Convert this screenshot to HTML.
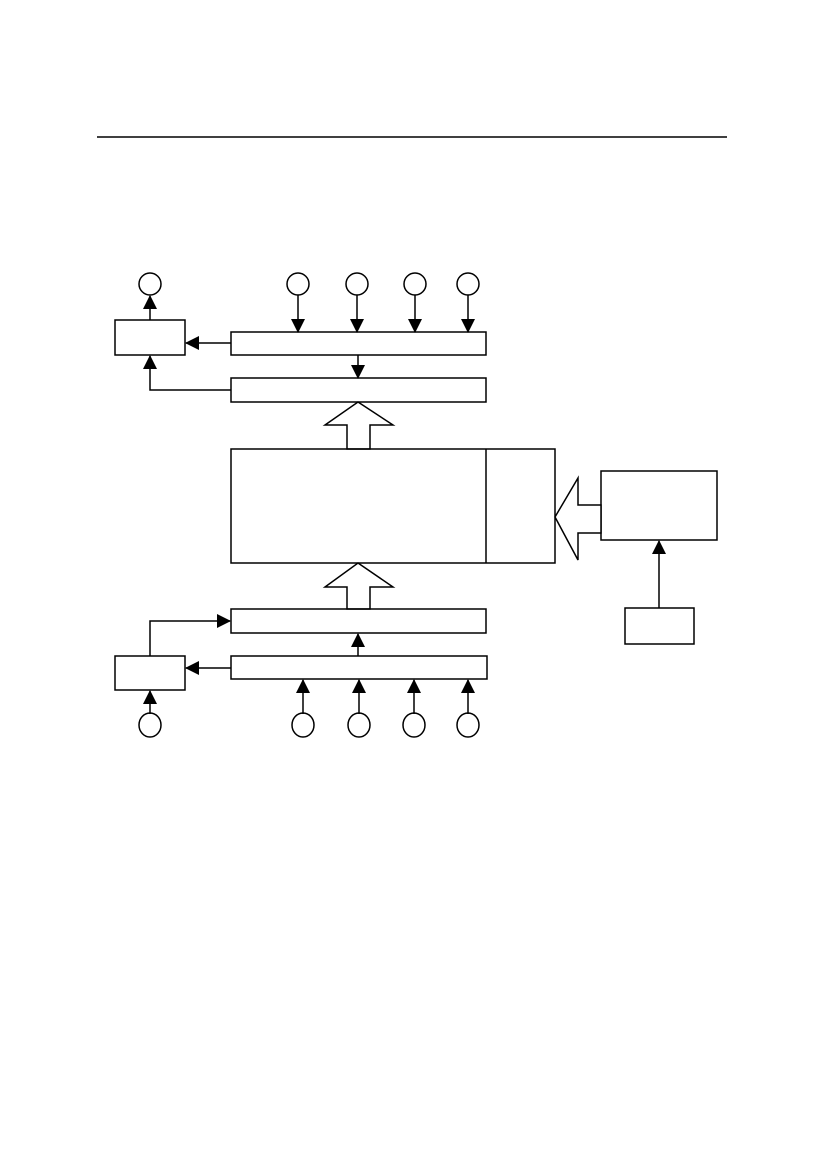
<!DOCTYPE html><html><head><style>body{margin:0;background:#fff}</style></head><body>
<svg width="826" height="1169" xmlns="http://www.w3.org/2000/svg" style="display:block">
<defs><marker id="a" markerWidth="10" markerHeight="10" refX="9" refY="5" orient="auto" markerUnits="userSpaceOnUse"><path d="M0,0 L10,5 L0,10 Z" fill="#000"/></marker>
<marker id="b" markerWidth="14" markerHeight="14" refX="13" refY="7" orient="auto" markerUnits="userSpaceOnUse"><path d="M0,0 L14,7 L0,14 Z" fill="#000"/></marker></defs>
<g stroke="#000" stroke-width="1.5" fill="none">
<line x1="97" y1="137" x2="727" y2="137"/>
<circle cx="150" cy="284" r="11"/><circle cx="298" cy="284" r="11"/><circle cx="357" cy="284" r="11"/><circle cx="415" cy="284" r="11"/><circle cx="468" cy="284" r="11"/>
<rect x="115" y="320" width="70" height="35"/>
<rect x="231" y="332" width="255" height="23"/>
<rect x="231" y="378" width="255" height="24"/>
<line x1="150" y1="320" x2="150" y2="296" marker-end="url(#b)"/>
<line x1="298" y1="295" x2="298" y2="332" marker-end="url(#b)"/>
<line x1="357" y1="295" x2="357" y2="332" marker-end="url(#b)"/>
<line x1="415" y1="295" x2="415" y2="332" marker-end="url(#b)"/>
<line x1="468" y1="295" x2="468" y2="332" marker-end="url(#b)"/>
<line x1="231" y1="343" x2="186" y2="343" marker-end="url(#b)"/>
<line x1="358" y1="355" x2="358" y2="378" marker-end="url(#b)"/>
<polyline points="231,390 150,390 150,356" marker-end="url(#b)"/>
<polygon points="358,402 393,425 370,425 370,449 347,449 347,425 325,425" fill="#fff"/>
<rect x="231" y="449" width="324" height="114"/>
<line x1="486" y1="449" x2="486" y2="563"/>
<rect x="601" y="471" width="116" height="69"/>
<polygon points="555,517 578,478 578,505 601,505 601,533 578,533 578,560" fill="#fff"/>
<rect x="625" y="608" width="69" height="36"/>
<line x1="659" y1="608" x2="659" y2="541" marker-end="url(#b)"/>
<polygon points="358,563 393,587 370,587 370,609 347,609 347,587 325,587" fill="#fff"/>
<rect x="231" y="609" width="255" height="24"/>
<rect x="231" y="656" width="256" height="23"/>
<rect x="115" y="656" width="70" height="34"/>
<polyline points="150,656 150,621 230,621" marker-end="url(#b)"/>
<line x1="358" y1="656" x2="358" y2="634" marker-end="url(#b)"/>
<line x1="231" y1="668" x2="186" y2="668" marker-end="url(#b)"/>
<line x1="150" y1="714" x2="150" y2="691" marker-end="url(#b)"/>
<line x1="303" y1="714" x2="303" y2="680" marker-end="url(#b)"/>
<line x1="359" y1="714" x2="359" y2="680" marker-end="url(#b)"/>
<line x1="414" y1="714" x2="414" y2="680" marker-end="url(#b)"/>
<line x1="468" y1="714" x2="468" y2="680" marker-end="url(#b)"/>
<ellipse cx="150" cy="725" rx="11" ry="12"/><ellipse cx="303" cy="725" rx="11" ry="12"/><ellipse cx="359" cy="725" rx="11" ry="12"/><ellipse cx="414" cy="725" rx="11" ry="12"/><ellipse cx="468" cy="725" rx="11" ry="12"/>
</g></svg></body></html>
